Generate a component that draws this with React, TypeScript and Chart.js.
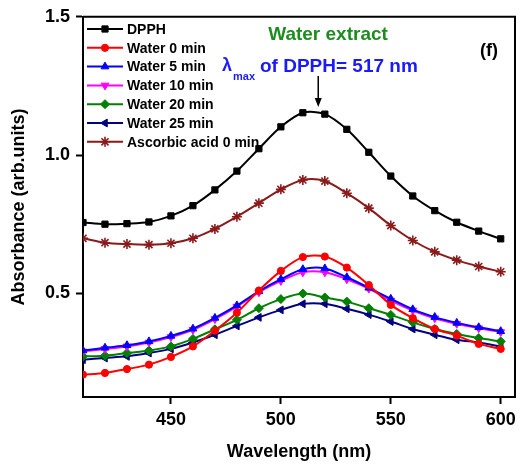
import React, { useEffect, useRef } from 'react';
import { Chart, registerables } from 'chart.js';
import { drawPoint } from 'chart.js/helpers';

Chart.register(...registerables);

const wavelengths = [410, 420, 430, 440, 450, 460, 470, 480, 490, 500, 510, 520, 530, 540, 550, 560, 570, 580, 590, 600];

const dpph = [0.756, 0.750, 0.752, 0.758, 0.780, 0.817, 0.874, 0.942, 1.023, 1.102, 1.153, 1.148, 1.093, 1.010, 0.924, 0.852, 0.799, 0.757, 0.725, 0.697];
const water0 = [0.206, 0.212, 0.226, 0.242, 0.270, 0.308, 0.365, 0.430, 0.510, 0.581, 0.631, 0.633, 0.593, 0.530, 0.458, 0.410, 0.371, 0.347, 0.317, 0.299];
const water5 = [0.293, 0.303, 0.312, 0.326, 0.346, 0.372, 0.411, 0.456, 0.507, 0.551, 0.587, 0.590, 0.558, 0.520, 0.480, 0.442, 0.414, 0.393, 0.377, 0.363];
const water10 = [0.290, 0.299, 0.308, 0.322, 0.342, 0.368, 0.407, 0.452, 0.504, 0.545, 0.576, 0.576, 0.551, 0.517, 0.474, 0.438, 0.410, 0.390, 0.374, 0.360];
const water20 = [0.272, 0.274, 0.284, 0.293, 0.308, 0.335, 0.370, 0.404, 0.446, 0.479, 0.499, 0.485, 0.470, 0.446, 0.422, 0.395, 0.371, 0.353, 0.338, 0.326];
const water25 = [0.260, 0.266, 0.272, 0.284, 0.299, 0.322, 0.350, 0.382, 0.413, 0.440, 0.462, 0.462, 0.444, 0.423, 0.398, 0.371, 0.350, 0.332, 0.322, 0.308];
const ascorbic0 = [0.699, 0.683, 0.678, 0.676, 0.681, 0.699, 0.733, 0.777, 0.826, 0.876, 0.910, 0.906, 0.862, 0.808, 0.745, 0.691, 0.650, 0.620, 0.597, 0.578];

const seriesLabels = ['DPPH', 'Water 0 min', 'Water 5 min', 'Water 10 min', 'Water 20 min', 'Water 25 min', 'Ascorbic acid 0 min'];
const xTickValues = [450, 500, 550, 600];
const yTickValues = [0.5, 1.0, 1.5];
const lambdaMax = 517;

const FONT = '"Liberation Sans", Arial, Helvetica, sans-serif';

export default function App() {
  const ref = useRef<HTMLCanvasElement>(null);

  useEffect(() => {
    if (!ref.current) return;
    const seriesData = [dpph, water0, water5, water10, water20, water25, ascorbic0];
    const styles = [
      { color: '#000000', style: 'rect', radius: 4.4, rotation: 0, bw: 1 },
      { color: '#ff0000', style: 'circle', radius: 3.6, rotation: 0, bw: 1 },
      { color: '#0000ff', style: 'triangle', radius: 4.5, rotation: 0, bw: 1 },
      { color: '#ff00ff', style: 'triangle', radius: 4.5, rotation: 180, bw: 1 },
      { color: '#008000', style: 'rectRot', radius: 4.5, rotation: 0, bw: 1 },
      { color: '#000080', style: 'triangle', radius: 4.5, rotation: -90, bw: 1 },
      { color: '#8b1a1a', style: 'star', radius: 5, rotation: 0, bw: 1.6 },
    ];

    const datasets = seriesData.map((arr, i) => ({
      label: seriesLabels[i],
      data: wavelengths.map((x, j) => ({ x, y: arr[j] })),
      borderColor: styles[i].color,
      backgroundColor: styles[i].color,
      borderWidth: 2,
      pointStyle: styles[i].style as any,
      pointRadius: styles[i].radius,
      pointRotation: styles[i].rotation,
      pointBackgroundColor: styles[i].color,
      pointBorderColor: styles[i].color,
      pointBorderWidth: styles[i].bw,
      tension: 0.3,
      clip: { left: 0, right: false, top: false, bottom: false } as any,
    }));

    const overlay = {
      id: 'overlay',
      afterDraw(chart: any) {
        const { ctx, chartArea } = chart;
        const xs = chart.scales.x;
        ctx.save();
        // frame top & right
        ctx.strokeStyle = '#000';
        ctx.lineWidth = 2;
        ctx.beginPath();
        ctx.moveTo(chartArea.left, chartArea.top);
        ctx.lineTo(chartArea.right, chartArea.top);
        ctx.lineTo(chartArea.right, chartArea.bottom);
        ctx.stroke();

        // legend
        const lx0 = 87, lx1 = 123, ly0 = 29, ldy = 18.8;
        styles.forEach((s, i) => {
          const y = ly0 + i * ldy;
          ctx.strokeStyle = s.color;
          ctx.fillStyle = s.color;
          ctx.lineWidth = 2;
          ctx.beginPath();
          ctx.moveTo(lx0, y);
          ctx.lineTo(lx1, y);
          ctx.stroke();
          ctx.lineWidth = s.bw;
          drawPoint(ctx, { pointStyle: s.style as any, rotation: s.rotation, radius: s.radius, borderWidth: s.bw } as any, (lx0 + lx1) / 2, y);
          ctx.fillStyle = '#000';
          ctx.font = `bold 14px ${FONT}`;
          ctx.textAlign = 'left';
          ctx.textBaseline = 'middle';
          ctx.fillText(seriesLabels[i], 127, y + 1);
        });

        // annotations
        ctx.textBaseline = 'middle';
        ctx.fillStyle = '#1e8c1e';
        ctx.font = `bold 19px ${FONT}`;
        ctx.textAlign = 'center';
        ctx.fillText('Water extract', 328, 35);

        ctx.fillStyle = '#1a1aff';
        ctx.textAlign = 'left';
        ctx.font = `bold 18px ${FONT}`;
        ctx.fillText('λ', 222, 66);
        ctx.font = `bold 11px ${FONT}`;
        ctx.fillText('max', 233, 77);
        ctx.font = `bold 19px ${FONT}`;
        ctx.fillText('of DPPH= 517 nm', 260, 67);

        ctx.fillStyle = '#000';
        ctx.font = `bold 18px ${FONT}`;
        ctx.textAlign = 'center';
        ctx.fillText('(f)', 489, 51);

        // arrow
        const ax = xs.getPixelForValue(lambdaMax);
        ctx.strokeStyle = '#000';
        ctx.lineWidth = 1.5;
        ctx.beginPath();
        ctx.moveTo(ax, 76);
        ctx.lineTo(ax, 100);
        ctx.stroke();
        ctx.beginPath();
        ctx.moveTo(ax - 3.5, 98);
        ctx.lineTo(ax + 3.5, 98);
        ctx.lineTo(ax, 107);
        ctx.closePath();
        ctx.fill();
        ctx.restore();
      },
    };

    const tickFont = { family: FONT, size: 18, weight: 'bold' as const };

    const chart = new Chart(ref.current, {
      type: 'line',
      data: { datasets },
      options: {
        responsive: false,
        animation: false,
        layout: { padding: { top: 16, right: 7, left: 0, bottom: 0 } },
        plugins: { legend: { display: false }, tooltip: { enabled: false } },
        scales: {
          x: {
            type: 'linear',
            min: 410,
            max: 606.5,
            afterBuildTicks: (s: any) => { s.ticks = xTickValues.map((v) => ({ value: v })); },
            afterFit: (s: any) => { s.height = 68; },
            grid: { display: true, drawOnChartArea: false, drawTicks: true, tickLength: 7, tickWidth: 2, tickColor: '#000' },
            border: { display: true, color: '#000', width: 2 },
            ticks: { color: '#000', font: tickFont, padding: 5, maxRotation: 0, autoSkip: false },
            title: { display: true, text: 'Wavelength (nm)', color: '#000', font: tickFont, padding: { top: 0, bottom: 2 } },
          },
          y: {
            type: 'linear',
            min: 0.125,
            max: 1.5,
            afterBuildTicks: (s: any) => { s.ticks = yTickValues.map((v) => ({ value: v })); },
            afterFit: (s: any) => { s.width = 83; },
            grid: { display: true, drawOnChartArea: false, drawTicks: true, tickLength: 7, tickWidth: 2, tickColor: '#000' },
            border: { display: true, color: '#000', width: 2 },
            ticks: { color: '#000', font: tickFont, padding: 6, autoSkip: false, callback: (v: any) => Number(v).toFixed(1) },
            title: { display: true, text: 'Absorbance (arb.units)', color: '#000', font: tickFont, padding: { top: 8, bottom: 0 } },
          },
        },
      },
      plugins: [overlay],
    });
    return () => chart.destroy();
  }, []);

  return (
    <div style={{ position: 'absolute', left: 0, top: 0, width: 522, height: 465, background: '#fff' }}>
      <canvas ref={ref} width={522} height={465} style={{ display: 'block' }} />
    </div>
  );
}
